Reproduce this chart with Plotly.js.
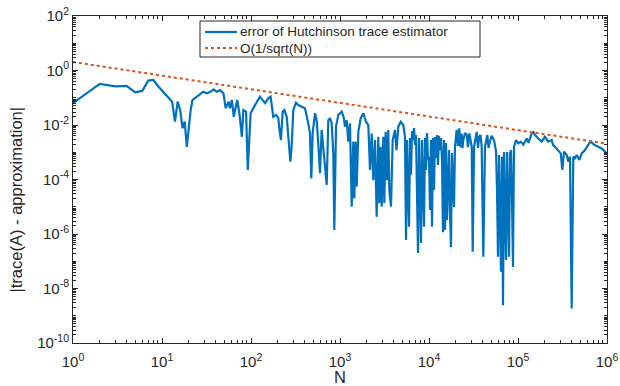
<!DOCTYPE html>
<html>
<head>
<meta charset="utf-8">
<script src="https://cdn.plot.ly/plotly-3.0.1.min.js"></script>
<style>html,body{margin:0;padding:0;background:#fff;}#chart{width:620px;height:386px;}</style>
</head>
<body>
<div id="chart"></div>
<script>
// sample counts N
var sampleN = [
  1,2,3,4,5,6,7,8,9,
  11,12,13,14,15,16,17,18,19,
  21,22,26,28,29,
  32,35,38,41,45,49,
  52,56,58,61,64,
  70,74,79,82,88,92,99,
  106,116,126,144,156,166,178,191,
  203,208,217,227,237,252,269,277,286,299,
  320,340,371,
  404,440,460,476,493,
  524,547,570,596,
  622,649,678,
  709,739,773,
  807,841,863,902,957,
  1045,1104,1138,1189,1239,1295,1353,1410,1448,1500,1541,1607,1710,1829,1960,
  2080,2173,2271,2366,2472,2582,2692,2767,2866,2942,
  3069,3148,3261,3373,3490,3581,3741,3909,
  4150,4313,4520,4808,5143,
  5375,5516,5661,5809,5962,6118,6278,6443,6612,6785,
  6963,7145,7333,7525,7722,7925,8132,8346,8564,8789,
  9019,9255,9496,9745,10000,10262,10531,10806,11089,11380,
  11678,11984,12298,12620,12950,13289,13637,13995,14361,14737,
  15123,15519,15925,16342,16770,17209,17660,18122,18597,19084,
  19583,20096,
  20460,21180,21880,22590,23280,23790,24270,25380,26530,27400,28380,
  30200,30970,32060,34360,35480,36730,37930,39080,
  40740,42560,45180,46670,48420,50470,
  53750,55160,56610,58090,59610,61170,62770,64420,66110,67840,
  69620,71440,73310,75230,77200,79220,81300,83430,85610,87850,
  90150,95000,
  100700,107200,114800,125300,131200,142600,149300,155300,169200,184600,
  201000,218800,239100,247300,260500,283800,
  302000,314800,328900,352500,367300,383700,
  401000,417900,436500,457100,488700,
  520000,566200,616600,656100,714500,798000,871000,950600,1000000
];
// |trace(A) - approximation|
var traceError = [
  6.3e-2,3.2e-1,2.6e-1,2.75e-1,1.58e-1,1.78e-1,4.27e-1,4.47e-1,2.7e-1,
  1.26e-1,9.5e-2,7.2e-2,1.32e-2,7.2e-2,3.55e-2,7.6e-3,1.32e-2,1.58e-3,
  3.55e-2,8.3e-2,1.26e-1,1.45e-1,1.66e-1,
  1.45e-1,1.66e-1,2.04e-1,1.66e-1,1.9e-1,1.45e-1,
  4.1e-2,7.2e-2,4.1e-2,8.3e-2,2.0e-2,
  8.3e-2,2.7e-2,3.7e-3,3.55e-2,3.1e-2,2.24e-4,2.7e-2,
  4.1e-2,7.2e-2,1.1e-1,6.3e-2,9.5e-2,1.1e-1,2.0e-2,2.34e-2,
  1.78e-2,7.6e-3,2.8e-3,3.1e-2,3.55e-2,2.0e-2,2.1e-3,4.5e-4,1.58e-3,3.55e-2,
  6.6e-2,5.4e-2,4.7e-2,
  4.1e-2,1.15e-2,4.9e-3,1.1e-4,4.9e-3,
  2.7e-2,1.5e-2,2.1e-3,1.7e-4,
  6.6e-3,1.2e-3,2.24e-4,
  6.3e-5,1.5e-2,1.78e-2,
  1.15e-2,9.1e-4,1.41e-6,8.7e-3,2.34e-2,
  3.1e-2,1.8e-2,8.7e-3,1.5e-2,2.45e-3,1.15e-2,1.0e-5,2.45e-3,2.0e-5,2.45e-3,5.4e-5,5.6e-3,1.78e-2,2.7e-2,1.32e-2,
  1.0e-2,2.24e-4,4.9e-3,9.5e-5,2.8e-3,4.3e-6,3.7e-3,1.35e-5,1.58e-3,1.0e-5,
  3.7e-3,1.35e-5,5.6e-3,9.5e-5,6.6e-3,4.1e-5,1.0e-5,2.8e-3,
  6.6e-3,1.2e-3,8.7e-3,1.32e-2,1.0e-2,
  3.6e-3,6.0e-7,2.8e-3,4.1e-5,1.86e-6,3.3e-3,1.5e-4,6.0e-3,2.8e-3,7.8e-3,
  1.86e-3,4.3e-3,2.5e-6,2.0e-7,3.3e-3,1.8e-5,4.7e-7,2.8e-3,6.3e-5,1.86e-6,
  3.3e-3,2.24e-4,5.1e-3,5.2e-4,6.8e-4,7.6e-6,2.8e-3,1.86e-6,3.3e-3,4.1e-5,
  3.6e-3,6.2e-4,4.3e-3,3.4e-4,4.0e-3,1.2e-3,3.3e-3,5.2e-4,1.17e-6,2.8e-3,
  1.41e-6,2.2e-3,3.2e-6,1.5e-4,1.2e-3,5.9e-6,3.3e-7,9.3e-4,4.1e-5,9.8e-6,
  1.55e-3,6.0e-3,
  6.6e-3,1.7e-3,7.6e-3,1.55e-3,4.9e-3,1.4e-3,2.8e-3,5.1e-3,4.3e-3,1.55e-3,4.9e-3,
  1.58e-3,2.24e-7,1.58e-3,5.6e-3,1.45e-3,3.7e-3,4.3e-3,1.58e-3,
  1.48e-7,1.58e-3,4.3e-3,1.45e-3,2.45e-3,4.0e-3,
  2.8e-3,1.86e-3,1.12e-3,4.1e-5,1.45e-7,7.9e-4,1.8e-5,4.1e-8,6.8e-4,2.45e-9,
  1.02e-3,7.6e-6,1.12e-7,1.02e-3,2.7e-5,1.45e-7,9.3e-4,1.2e-3,1.8e-5,6.2e-8,
  1.55e-3,2.8e-3,
  2.1e-3,2.45e-3,1.9e-3,3.2e-3,2.2e-3,4.9e-3,5.5e-3,4.3e-3,3.2e-3,2.45e-3,
  3.7e-3,2.45e-3,2.8e-3,1.86e-3,1.58e-3,1.2e-3,
  9.1e-4,2.24e-4,1.05e-3,7.9e-4,4.5e-4,6.9e-4,
  1.86e-9,6.9e-4,6.0e-4,7.9e-4,5.2e-4,
  9.1e-4,1.2e-3,1.9e-3,2.45e-3,1.9e-3,1.58e-3,1.38e-3,1.05e-3,9.1e-4
];
// reference line O(1/sqrt(N)), read at both ends
var refN = [1, 1000000];
var refErr = [2.05, 2.05e-3];

var xTickVals = [1, 10, 100, 1000, 10000, 100000, 1000000];
var xTickText = ['10<sup>0</sup>','10<sup>1</sup>','10<sup>2</sup>','10<sup>3</sup>','10<sup>4</sup>','10<sup>5</sup>','10<sup>6</sup>'];
var yTickVals = [1e-10, 1e-8, 1e-6, 1e-4, 1e-2, 1, 100];
var yTickText = ['10<sup>-10</sup>','10<sup>-8</sup>','10<sup>-6</sup>','10<sup>-4</sup>','10<sup>-2</sup>','10<sup>0</sup>','10<sup>2</sup>'];
var legendNames = ['error of Hutchinson trace estimator', 'O(1/sqrt(N))'];
var xTitle = 'N';
var yTitle = '|trace(A) - approximation|';

function minorTicks(lo, hi, withDecades) {
  var out = [];
  for (var e = lo; e < hi; e++) {
    var base = Math.pow(10, e);
    if (withDecades && (e - lo) % 2 === 1) out.push(base);
    for (var m = 2; m <= 9; m++) out.push(m * base);
  }
  return out;
}

var ink = '#262626';
var blue = '#0072BD';
var orange = '#D95319';
var font = 'Liberation Sans, Arial, Helvetica, sans-serif';

var traces = [
  {x: sampleN, y: traceError, type: 'scatter', mode: 'lines', name: legendNames[0],
   line: {color: blue, width: 2.2}},
  {x: refN, y: refErr, type: 'scatter', mode: 'lines', name: legendNames[1],
   line: {color: orange, width: 2, dash: 'dot'}}
];

var axisCommon = {
  type: 'log', showgrid: false, zeroline: false,
  ticks: 'inside', ticklen: 5, tickwidth: 1, tickcolor: ink,
  showline: true, linecolor: ink, linewidth: 1, mirror: 'allticks',
  tickfont: {family: font, size: 15, color: ink}
};

// plot-area helpers (pixel -> paper fraction) for the legend box
var L = 73, R = 607, T = 16, B = 343;
function px(x) { return (x - L) / (R - L); }
function py(y) { return (B - y) / (B - T); }

var layout = {
  width: 620, height: 386,
  margin: {l: L, r: 620 - R, t: T, b: 386 - B},
  paper_bgcolor: '#fff', plot_bgcolor: '#fff',
  font: {family: font, color: ink},
  showlegend: false,
  xaxis: Object.assign({}, axisCommon, {
    range: [0, 6], tickmode: 'array', tickvals: xTickVals, ticktext: xTickText,
    ticklabelstandoff: 5,
    minor: {tickmode: 'array', tickvals: minorTicks(0, 6, false), ticks: 'inside', ticklen: 3, tickcolor: ink, showgrid: false},
    title: {text: xTitle, font: {family: font, size: 16.5, color: ink}, standoff: 3}
  }),
  yaxis: Object.assign({}, axisCommon, {
    range: [-10, 2], tickmode: 'array', tickvals: yTickVals, ticktext: yTickText,
    minor: {tickmode: 'array', tickvals: minorTicks(-10, 2, true), ticks: 'inside', ticklen: 3, tickcolor: ink, showgrid: false}
  }),
  shapes: [
    {type: 'rect', xref: 'paper', yref: 'paper', x0: px(200), x1: px(480), y0: py(57), y1: py(21),
     fillcolor: '#fff', line: {color: ink, width: 1}, layer: 'above'},
    {type: 'line', xref: 'paper', yref: 'paper', x0: px(205), x1: px(237), y0: py(32), y1: py(32),
     line: {color: blue, width: 2.2}, layer: 'above'},
    {type: 'line', xref: 'paper', yref: 'paper', x0: px(205), x1: px(237), y0: py(48), y1: py(48),
     line: {color: orange, width: 2, dash: 'dot'}, layer: 'above'}
  ],
  annotations: [
    {xref: 'paper', yref: 'paper', x: px(238), y: py(32), xanchor: 'left', yanchor: 'middle',
     text: legendNames[0], showarrow: false, font: {family: font, size: 13.5, color: ink}},
    {xref: 'paper', yref: 'paper', x: px(238), y: py(48), xanchor: 'left', yanchor: 'middle',
     text: legendNames[1], showarrow: false, font: {family: font, size: 13.5, color: ink}},
    {xref: 'paper', yref: 'paper', x: px(15.5), y: py(200), xanchor: 'center', yanchor: 'middle',
     textangle: -90, text: yTitle, showarrow: false, font: {family: font, size: 16.5, color: ink}}
  ]
};

Plotly.newPlot('chart', traces, layout, {displayModeBar: false, staticPlot: true});
</script>
</body>
</html>
